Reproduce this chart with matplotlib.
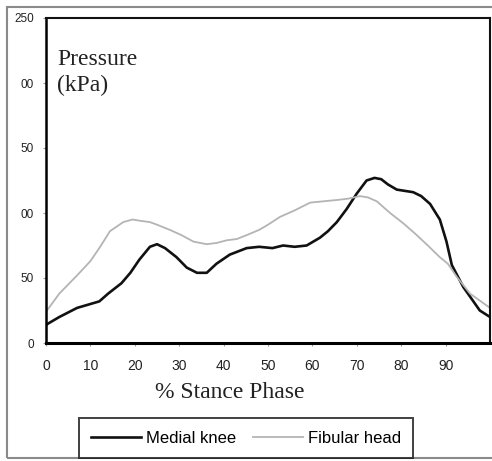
import matplotlib
matplotlib.use("Agg")
import matplotlib.pyplot as plt
from matplotlib.patches import Rectangle

# Medial knee (black)
knee_x = [0, 3, 7, 10, 12, 14, 17, 19, 21, 23.4, 25, 26.8, 29.4, 31.7, 34, 36.2,
          38.4, 41.4, 45.2, 48, 51, 53.4, 56, 58.7, 61.7, 63.5, 65.5, 67.7, 70,
          72.2, 74, 75.5, 77, 79, 82.7, 84.5, 86.5, 88.7, 90.2, 91.4, 94, 97.7, 100]
knee_y = [14, 20, 27, 30, 32, 38, 46, 54, 64, 74, 76, 73, 66, 58, 54, 54,
          61, 68, 73, 74, 73, 75, 74, 75, 81, 86, 93, 103, 115,
          125, 127, 126, 122, 118, 116, 113, 107, 95, 78, 60, 43, 25, 20]

# Fibular head (gray)
fib_x = [0, 3, 7, 10, 12.2, 14.4, 17.4, 19.5, 21.2, 23.4, 25, 27.9, 30.5, 33.2,
         36.2, 38.5, 40.7, 43, 45.2, 48, 50, 52.7, 56, 59.5, 62.5, 65.5, 68, 70.7,
         72.5, 74.5, 77.5, 80.5, 83.5, 86, 88.7, 90.5, 92.5, 95.5, 100]
fib_y = [24, 38, 52, 63, 74, 86, 93, 95, 94, 93, 91, 87, 83, 78,
         76, 77, 79, 80, 83, 87, 91, 97, 102, 108, 109, 110, 111, 113,
         112, 109, 100, 92, 83, 75, 66, 61, 51, 38, 27]

x_ticks = [0, 10, 20, 30, 40, 50, 60, 70, 80, 90]
y_ticks = [0, 50, 100, 150, 200, 250]
y_tick_labels = ["0", "50", "00", "50", "00", "250"]

fig = plt.figure(figsize=(4.92, 4.61), dpi=100)

# outer frame of the scanned figure
frame = Rectangle((7 / 492, 3 / 461), 1.1, 451 / 461, transform=fig.transFigure,
                  fill=False, edgecolor="#8a8a8a", linewidth=1.5)
fig.patches.append(frame)

ax = fig.add_axes([46 / 492, 118 / 461, 444 / 492, 325 / 461])
ax.plot(knee_x, knee_y, color="#111111", linewidth=1.9, label="Medial knee")
ax.plot(fib_x, fib_y, color="#b4b4b4", linewidth=1.3, label="Fibular head")

ax.set_xlim(0, 100)
ax.set_ylim(0, 250)
ax.set_xticks(x_ticks)
ax.set_yticks(y_ticks)
ax.set_yticklabels(y_tick_labels)
ax.tick_params(axis="x", direction="out", length=2.5, width=0.8, color="#999999",
               pad=9, labelsize=10, labelcolor="#222222")
ax.tick_params(axis="y", direction="out", length=2.5, width=0.8, color="#999999",
               pad=6, labelsize=8.5, labelcolor="#222222")
for lbl in ax.get_xticklabels() + ax.get_yticklabels():
    lbl.set_family("Liberation Sans")

for side in ["top", "right"]:
    ax.spines[side].set_linewidth(1.5)
    ax.spines[side].set_color("#111111")
ax.spines["left"].set_linewidth(1.8)
ax.spines["bottom"].set_linewidth(2.2)

ax.text(0.025, 0.905, "Pressure\n(kPa)", transform=ax.transAxes, ha="left", va="top",
        family="Liberation Serif", fontsize=17, linespacing=1.3, color="#222222")

fig.text(230 / 492, 1 - 393 / 461, "% Stance Phase", ha="center", va="center",
         family="Liberation Serif", fontsize=17, color="#222222")

leg = fig.legend(loc="center", bbox_to_anchor=(246 / 492, 23 / 461), ncol=2,
                 frameon=True, fancybox=False, handlelength=3.0, handletextpad=0.3,
                 columnspacing=1.0, borderpad=0.75,
                 prop={"family": "Liberation Sans", "size": 12})
leg.get_frame().set_edgecolor("#111111")
leg.get_frame().set_linewidth(1.4)

fig.savefig("out.png", dpi=100)
